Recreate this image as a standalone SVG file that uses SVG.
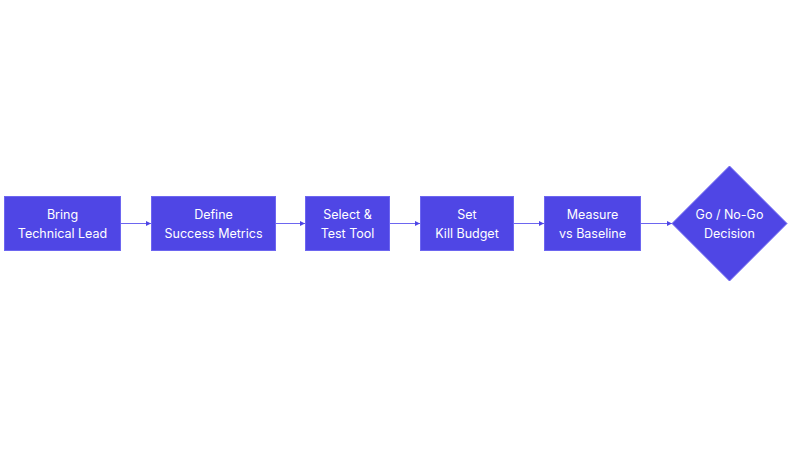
<svg xmlns="http://www.w3.org/2000/svg" width="800" height="450" viewBox="0 0 800 450">
<style>
.n{fill:#4f46e5;stroke:#6d66f0;stroke-width:1}
.t{fill:#fff;font-family:Inter,"Liberation Sans",sans-serif;font-size:12.5px;text-anchor:middle}
.c{stroke:#6d66f0;stroke-width:1;fill:none;marker-end:url(#a)}
</style>
<defs><marker id="a" viewBox="0 0 10 10" refX="10" refY="5" markerWidth="5" markerHeight="5" orient="auto"><path d="M0,0L10,5L0,10z" fill="#4f46e5"/></marker></defs>
<rect width="800" height="450" fill="#fff"/>
<g id="connectors">
<path class="c" d="M121,223.5H151"/>
<path class="c" d="M276,223.5H305"/>
<path class="c" d="M390,223.5H420"/>
<path class="c" d="M514,223.5H544"/>
<path class="c" d="M641,223.5H672"/>
</g>
<g id="n1"><rect class="n" x="4.5" y="196.5" width="116" height="54"/><text class="t" x="62.5" y="219">Bring</text><text class="t" x="62.5" y="238">Technical Lead</text></g>
<g id="n2"><rect class="n" x="151.5" y="196.5" width="124" height="54"/><text class="t" x="213.5" y="219">Define</text><text class="t" x="213.5" y="238">Success Metrics</text></g>
<g id="n3"><rect class="n" x="305.5" y="196.5" width="84" height="54"/><text class="t" x="347.5" y="219">Select &amp;</text><text class="t" x="347.5" y="238">Test Tool</text></g>
<g id="n4"><rect class="n" x="420.5" y="196.5" width="93" height="54"/><text class="t" x="467" y="219">Set</text><text class="t" x="467" y="238">Kill Budget</text></g>
<g id="n5"><rect class="n" x="544.5" y="196.5" width="96" height="54"/><text class="t" x="592.5" y="219">Measure</text><text class="t" x="592.5" y="238">vs Baseline</text></g>
<g id="n6"><path class="n" d="M729.5,166L787,223.5L729.5,281L672,223.5Z"/><text class="t" x="729.5" y="219">Go / No-Go</text><text class="t" x="729.5" y="238">Decision</text></g>
</svg>
